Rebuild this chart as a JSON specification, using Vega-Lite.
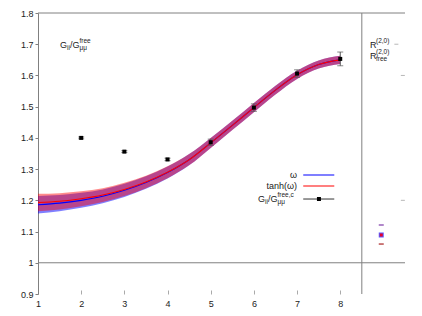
{
  "$schema": "https://vega.github.io/schema/vega-lite/v6.json",
  "width": 367,
  "height": 281,
  "autosize": "none",
  "padding": {"left": 38, "top": 13, "right": 17, "bottom": 22},
  "config": {"view": {"stroke": null}, "font": "Liberation Sans", "axis": {"labelOverlap": false, "labelBound": false, "labelFlush": false, "labelSeparation": 0}},
  "datasets": {
    "curve": [
      {"x": 1.0, "r": 1.193, "b": 1.186, "rlo": 1.165, "rhi": 1.221, "blo": 1.158, "bhi": 1.214},
      {"x": 1.5, "r": 1.197, "b": 1.191, "rlo": 1.171, "rhi": 1.223, "blo": 1.165, "bhi": 1.217},
      {"x": 2.0, "r": 1.205, "b": 1.200, "rlo": 1.181, "rhi": 1.229, "blo": 1.176, "bhi": 1.224},
      {"x": 2.5, "r": 1.217, "b": 1.213, "rlo": 1.195, "rhi": 1.239, "blo": 1.191, "bhi": 1.235},
      {"x": 3.0, "r": 1.235, "b": 1.232, "rlo": 1.214, "rhi": 1.256, "blo": 1.211, "bhi": 1.253},
      {"x": 3.5, "r": 1.259, "b": 1.257, "rlo": 1.239, "rhi": 1.279, "blo": 1.237, "bhi": 1.277},
      {"x": 4.0, "r": 1.290, "b": 1.289, "rlo": 1.271, "rhi": 1.309, "blo": 1.270, "bhi": 1.308},
      {"x": 4.5, "r": 1.330, "b": 1.330, "rlo": 1.312, "rhi": 1.348, "blo": 1.312, "bhi": 1.348},
      {"x": 5.0, "r": 1.384, "b": 1.384, "rlo": 1.368, "rhi": 1.400, "blo": 1.368, "bhi": 1.400},
      {"x": 5.5, "r": 1.440, "b": 1.440, "rlo": 1.425, "rhi": 1.455, "blo": 1.425, "bhi": 1.455},
      {"x": 6.0, "r": 1.497, "b": 1.497, "rlo": 1.482, "rhi": 1.512, "blo": 1.482, "bhi": 1.512},
      {"x": 6.5, "r": 1.553, "b": 1.553, "rlo": 1.539, "rhi": 1.567, "blo": 1.539, "bhi": 1.567},
      {"x": 7.0, "r": 1.602, "b": 1.602, "rlo": 1.589, "rhi": 1.615, "blo": 1.589, "bhi": 1.615},
      {"x": 7.5, "r": 1.635, "b": 1.635, "rlo": 1.622, "rhi": 1.648, "blo": 1.622, "bhi": 1.648},
      {"x": 8.0, "r": 1.650, "b": 1.650, "rlo": 1.637, "rhi": 1.663, "blo": 1.637, "bhi": 1.663}
    ],
    "pts": [
      {"x": 2, "y": 1.400, "lo": 1.397, "hi": 1.403},
      {"x": 3, "y": 1.356, "lo": 1.353, "hi": 1.359},
      {"x": 4, "y": 1.331, "lo": 1.327, "hi": 1.335},
      {"x": 5, "y": 1.386, "lo": 1.376, "hi": 1.396},
      {"x": 6, "y": 1.497, "lo": 1.485, "hi": 1.509},
      {"x": 7, "y": 1.606, "lo": 1.594, "hi": 1.618},
      {"x": 8, "y": 1.653, "lo": 1.631, "hi": 1.675}
    ],
    "frame": [
      {"k": "h", "x": 1, "x2": 9.5, "y": 1.8, "y2": 1.8},
      {"k": "h", "x": 1, "x2": 9.5, "y": 1.0, "y2": 1.0},
      {"k": "v", "x": 8.5, "x2": 8.5, "y": 0.9, "y2": 1.8}
    ],
    "leg": [
      {"s": "w", "x": 7.143, "x2": 7.862, "y": 1.2811},
      {"s": "t", "x": 7.143, "x2": 7.862, "y": 1.2459},
      {"s": "g", "x": 7.143, "x2": 7.862, "y": 1.2042}
    ],
    "legpt": [{"x": 7.507, "y": 1.2042}],
    "side": [
      {"k": "up", "x": 8.95, "y": 1.121},
      {"k": "lo", "x": 8.95, "y": 1.06},
      {"k": "sq", "x": 8.95, "y": 1.089}
    ],
    "rticks": [
      {"x": 9.3, "y": 1.7},
      {"x": 9.45, "y": 1.6},
      {"x": 9.45, "y": 1.2}
    ],
    "txt": [
      {"k": "main", "x": 1.5095, "y": 1.6975, "t": "G"},
      {"k": "sub", "x": 1.6716, "y": 1.6975, "t": "ii"},
      {"k": "main", "x": 1.741, "y": 1.6975, "t": "/G"},
      {"k": "sup", "x": 1.961, "y": 1.6975, "t": "free"},
      {"k": "sub", "x": 1.961, "y": 1.6975, "t": "μμ"},
      {"k": "mainR", "x": 6.998, "y": 1.2811, "t": "ω"},
      {"k": "mainR", "x": 6.998, "y": 1.2459, "t": "tanh(ω)"},
      {"k": "main", "x": 6.095, "y": 1.2042, "t": "G"},
      {"k": "sub", "x": 6.257, "y": 1.2042, "t": "ii"},
      {"k": "main", "x": 6.327, "y": 1.2042, "t": "/G"},
      {"k": "sup", "x": 6.547, "y": 1.2042, "t": "free,c"},
      {"k": "sub", "x": 6.547, "y": 1.2042, "t": "μμ"},
      {"k": "main", "x": 8.689, "y": 1.6975, "t": "R"},
      {"k": "sup", "x": 8.828, "y": 1.6975, "t": "(2,0)"},
      {"k": "main", "x": 8.689, "y": 1.6623, "t": "R"},
      {"k": "sup", "x": 8.828, "y": 1.6623, "t": "(2,0)"},
      {"k": "sub", "x": 8.828, "y": 1.6623, "t": "free"}
    ]
  },
  "layer": [
    {
      "data": {"name": "curve"},
      "mark": {"type": "area", "color": "#0000ff", "opacity": 0.5, "interpolate": "monotone"},
      "encoding": {
        "x": {"field": "x", "type": "quantitative", "scale": {"domain": [1, 9.5], "nice": false, "zero": false},
          "axis": {"values": [1, 2, 3, 4, 5, 6, 7, 8], "title": null, "domain": false, "grid": false,
            "tickSize": -4, "tickColor": "#aaaaaa", "labelFontSize": 9, "labelColor": "#222222", "labelPadding": 9, "labelFont": "Liberation Sans"}},
        "y": {"field": "blo", "type": "quantitative", "scale": {"domain": [0.9, 1.8], "nice": false, "zero": false},
          "axis": {"tickCount": 9, "title": null, "grid": false, "labelOverlap": false,
            "format": "~g", "domainColor": "#808080", "tickColor": "#808080", "tickSize": 3,
            "labelFontSize": 9, "labelColor": "#222222", "labelPadding": 2, "labelFont": "Liberation Sans"}},
        "y2": {"field": "bhi"}
      }
    },
    {
      "data": {"name": "curve"},
      "mark": {"type": "area", "color": "#ff0000", "opacity": 0.45, "interpolate": "monotone"},
      "encoding": {
        "x": {"field": "x", "type": "quantitative"},
        "y": {"field": "rlo", "type": "quantitative"},
        "y2": {"field": "rhi"}
      }
    },
    {
      "data": {"name": "curve"},
      "mark": {"type": "line", "color": "#0000ff", "strokeWidth": 1.1, "interpolate": "monotone"},
      "encoding": {"x": {"field": "x", "type": "quantitative"}, "y": {"field": "b", "type": "quantitative"}}
    },
    {
      "data": {"name": "curve"},
      "mark": {"type": "line", "color": "#ff0000", "strokeWidth": 1.1, "interpolate": "monotone"},
      "encoding": {"x": {"field": "x", "type": "quantitative"}, "y": {"field": "r", "type": "quantitative"}}
    },
    {
      "data": {"name": "frame"},
      "transform": [{"filter": "datum.k == 'h'"}],
      "mark": {"type": "rule", "color": "#808080", "strokeWidth": 1},
      "encoding": {"x": {"field": "x", "type": "quantitative"}, "x2": {"field": "x2"}, "y": {"field": "y", "type": "quantitative"}}
    },
    {
      "data": {"name": "frame"},
      "transform": [{"filter": "datum.k == 'v'"}],
      "mark": {"type": "rule", "color": "#808080", "strokeWidth": 1},
      "encoding": {"x": {"field": "x", "type": "quantitative"}, "y": {"field": "y", "type": "quantitative"}, "y2": {"field": "y2"}}
    },
    {
      "data": {"name": "pts"},
      "mark": {"type": "rule", "color": "#555555", "strokeWidth": 1},
      "encoding": {"x": {"field": "x", "type": "quantitative"}, "y": {"field": "lo", "type": "quantitative"}, "y2": {"field": "hi"}}
    },
    {
      "data": {"name": "pts"},
      "mark": {"type": "tick", "orient": "horizontal", "color": "#555555", "size": 6, "thickness": 1},
      "encoding": {"x": {"field": "x", "type": "quantitative"}, "y": {"field": "lo", "type": "quantitative"}}
    },
    {
      "data": {"name": "pts"},
      "mark": {"type": "tick", "orient": "horizontal", "color": "#555555", "size": 6, "thickness": 1},
      "encoding": {"x": {"field": "x", "type": "quantitative"}, "y": {"field": "hi", "type": "quantitative"}}
    },
    {
      "data": {"name": "pts"},
      "mark": {"type": "square", "color": "#000000", "size": 16, "opacity": 1},
      "encoding": {"x": {"field": "x", "type": "quantitative"}, "y": {"field": "y", "type": "quantitative"}}
    },
    {
      "data": {"name": "leg"},
      "transform": [{"filter": "datum.s == 'w'"}],
      "mark": {"type": "rule", "color": "#7f7fff", "strokeWidth": 2},
      "encoding": {"x": {"field": "x", "type": "quantitative"}, "x2": {"field": "x2"}, "y": {"field": "y", "type": "quantitative"}}
    },
    {
      "data": {"name": "leg"},
      "transform": [{"filter": "datum.s == 't'"}],
      "mark": {"type": "rule", "color": "#ff7f7f", "strokeWidth": 2},
      "encoding": {"x": {"field": "x", "type": "quantitative"}, "x2": {"field": "x2"}, "y": {"field": "y", "type": "quantitative"}}
    },
    {
      "data": {"name": "leg"},
      "transform": [{"filter": "datum.s == 'g'"}],
      "mark": {"type": "rule", "color": "#333333", "strokeWidth": 1},
      "encoding": {"x": {"field": "x", "type": "quantitative"}, "x2": {"field": "x2"}, "y": {"field": "y", "type": "quantitative"}}
    },
    {
      "data": {"name": "legpt"},
      "mark": {"type": "square", "color": "#000000", "size": 16, "opacity": 1},
      "encoding": {"x": {"field": "x", "type": "quantitative"}, "y": {"field": "y", "type": "quantitative"}}
    },
    {
      "data": {"name": "side"},
      "transform": [{"filter": "datum.k == 'up'"}],
      "mark": {"type": "tick", "orient": "horizontal", "color": "#6a1b9a", "size": 5, "thickness": 1.5},
      "encoding": {"x": {"field": "x", "type": "quantitative"}, "y": {"field": "y", "type": "quantitative"}}
    },
    {
      "data": {"name": "side"},
      "transform": [{"filter": "datum.k == 'lo'"}],
      "mark": {"type": "tick", "orient": "horizontal", "color": "#9b0000", "size": 5, "thickness": 1.5},
      "encoding": {"x": {"field": "x", "type": "quantitative"}, "y": {"field": "y", "type": "quantitative"}}
    },
    {
      "data": {"name": "side"},
      "transform": [{"filter": "datum.k == 'sq'"}],
      "mark": {"type": "square", "color": "#5a5aff", "size": 25, "opacity": 1},
      "encoding": {"x": {"field": "x", "type": "quantitative"}, "y": {"field": "y", "type": "quantitative"}}
    },
    {
      "data": {"name": "side"},
      "transform": [{"filter": "datum.k == 'sq'"}],
      "mark": {"type": "square", "color": "#e8002a", "size": 9, "opacity": 1},
      "encoding": {"x": {"field": "x", "type": "quantitative"}, "y": {"field": "y", "type": "quantitative"}}
    },
    {
      "data": {"name": "rticks"},
      "mark": {"type": "tick", "orient": "horizontal", "color": "#999999", "size": 4, "thickness": 1},
      "encoding": {"x": {"field": "x", "type": "quantitative"}, "y": {"field": "y", "type": "quantitative"}}
    },
    {
      "data": {"name": "txt"},
      "transform": [{"filter": "datum.k == 'main'"}],
      "mark": {"type": "text", "align": "left", "baseline": "middle", "fontSize": 9, "fill": "#222222"},
      "encoding": {"x": {"field": "x", "type": "quantitative"}, "y": {"field": "y", "type": "quantitative"}, "text": {"field": "t"}}
    },
    {
      "data": {"name": "txt"},
      "transform": [{"filter": "datum.k == 'mainR'"}],
      "mark": {"type": "text", "align": "right", "baseline": "middle", "fontSize": 9, "fill": "#222222"},
      "encoding": {"x": {"field": "x", "type": "quantitative"}, "y": {"field": "y", "type": "quantitative"}, "text": {"field": "t"}}
    },
    {
      "data": {"name": "txt"},
      "transform": [{"filter": "datum.k == 'sup'"}],
      "mark": {"type": "text", "align": "left", "baseline": "middle", "fontSize": 6.5, "dy": -4, "fill": "#222222"},
      "encoding": {"x": {"field": "x", "type": "quantitative"}, "y": {"field": "y", "type": "quantitative"}, "text": {"field": "t"}}
    },
    {
      "data": {"name": "txt"},
      "transform": [{"filter": "datum.k == 'sub'"}],
      "mark": {"type": "text", "align": "left", "baseline": "middle", "fontSize": 6.5, "dy": 3, "fill": "#222222"},
      "encoding": {"x": {"field": "x", "type": "quantitative"}, "y": {"field": "y", "type": "quantitative"}, "text": {"field": "t"}}
    }
  ]
}
